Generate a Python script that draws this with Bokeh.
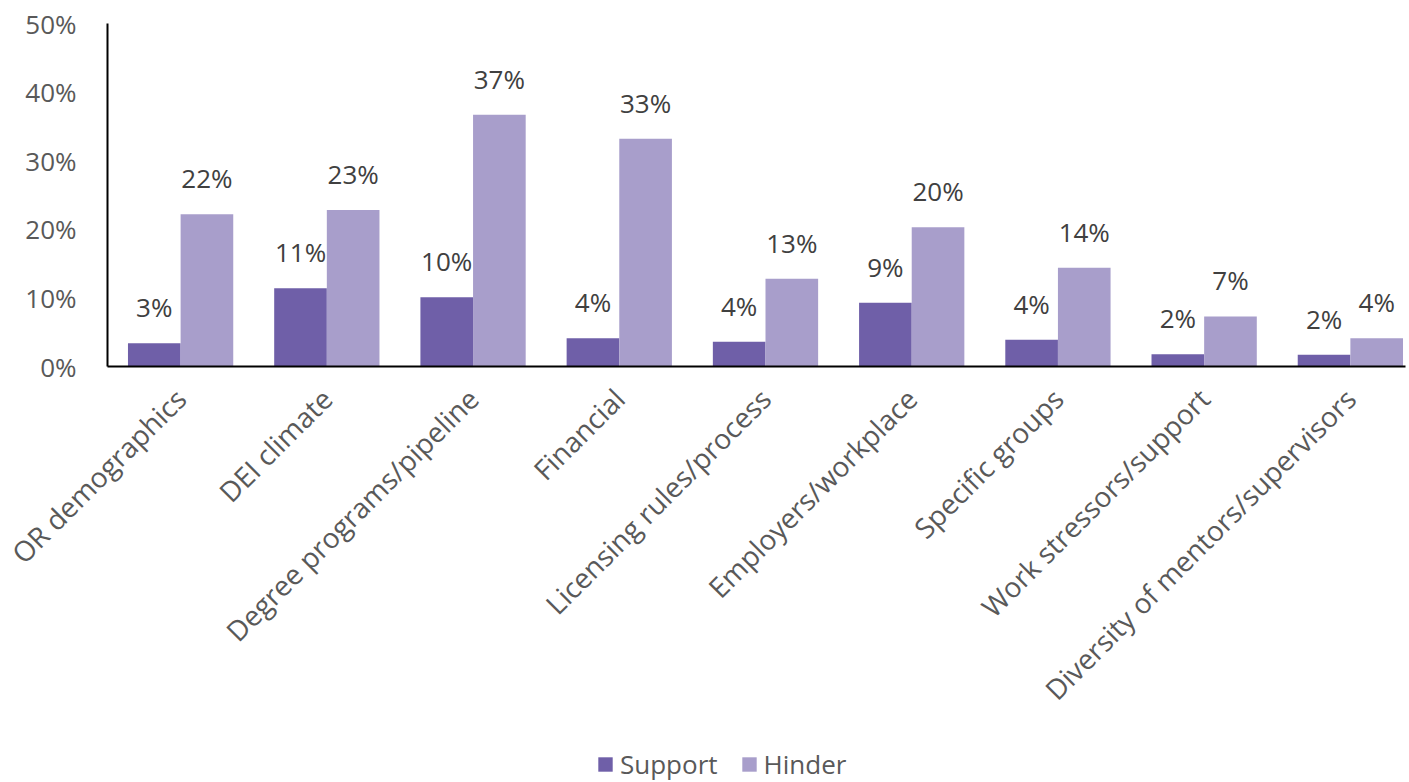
import math
from bokeh.plotting import figure
from bokeh.models import ColumnDataSource, Range1d, Legend, LegendItem
from bokeh.core.properties import value
from bokeh.embed import file_html
from bokeh.resources import INLINE

categories = ["OR demographics", "DEI climate", "Degree programs/pipeline", "Financial",
              "Licensing rules/process", "Employers/workplace", "Specific groups",
              "Work stressors/support", "Diversity of mentors/supervisors"]
support = [0.034, 0.114, 0.101, 0.041, 0.036, 0.093, 0.039, 0.018, 0.017]
hinder = [0.222, 0.228, 0.367, 0.332, 0.128, 0.203, 0.144, 0.073, 0.041]
y_ticks = [0, 0.1, 0.2, 0.3, 0.4, 0.5]
y_tick_labels = [f"{round(t * 100)}%" for t in y_ticks]

FONT = "Open Sans"
DARK = "#6F5FA8"
LIGHT = "#A89ECB"
W, H = 1409, 782
# pixel layout of the plotting area inside the canvas
LEFT, RIGHT, TOP, BOTTOM = 107, 1405, 23, 366
X_SPAN = 8.877          # data units between LEFT and RIGHT
Y_MAX = 0.5             # data value at TOP
kx = (RIGHT - LEFT) / X_SPAN
ky = (BOTTOM - TOP) / Y_MAX

centers = [i + 0.5 for i in range(len(categories))]
bw = 0.36
src_s = ColumnDataSource(dict(x=[c - bw / 2 for c in centers], top=support,
                              lab=[f"{round(v * 100)}%" for v in support]))
src_h = ColumnDataSource(dict(x=[c + bw / 2 for c in centers], top=hinder,
                              lab=[f"{round(v * 100)}%" for v in hinder]))
src_cat = ColumnDataSource(dict(x=centers, y=[0] * len(centers), name=categories))
src_yt = ColumnDataSource(dict(x=[0] * len(y_ticks), y=y_ticks, lab=y_tick_labels))

p = figure(width=W, height=H, output_backend="svg", toolbar_location=None,
           x_axis_type=None, y_axis_type=None,
           x_range=Range1d(-LEFT / kx, (W - LEFT) / kx),
           y_range=Range1d(-(H - BOTTOM) / ky, Y_MAX + TOP / ky),
           min_border_left=0, min_border_top=0, min_border_right=0, min_border_bottom=0)
p.outline_line_color = None

rs = p.vbar(x="x", top="top", width=bw, source=src_s, fill_color=DARK, line_color=None)
rh = p.vbar(x="x", top="top", width=bw, source=src_h, fill_color=LIGHT, line_color=None)

# axis lines
p.segment(x0=[0], y0=[0], x1=[0], y1=[Y_MAX], line_color="black", line_width=2)
p.segment(x0=[0], y0=[0], x1=[X_SPAN], y1=[0], line_color="black", line_width=2)

# data labels
for src in (src_s, src_h):
    p.text(x="x", y="top", text="lab", source=src, text_align="center", text_baseline="alphabetic",
           y_offset=-36, text_font=value(FONT), text_font_size="26px", text_color="#404040")

# y tick labels
p.text(x="x", y="y", text="lab", source=src_yt, text_align="right", text_baseline="middle",
       x_offset=-31, text_font=value(FONT), text_font_size="26px", text_color="#595959")

# category labels (rotated 45 degrees)
p.text(x="x", y="y", text="name", source=src_cat, angle=math.pi / 4,
       text_align="right", text_baseline="middle", y_offset=27,
       text_font=value(FONT), text_font_size="28px", text_color="#595959")

legend = Legend(items=[LegendItem(label="Support", renderers=[rs]),
                       LegendItem(label="Hinder", renderers=[rh])],
                orientation="horizontal", location=(596, 0),
                label_text_font=FONT, label_text_font_size="26px", label_text_color="#595959",
                glyph_width=18, glyph_height=18, spacing=22, label_standoff=6,
                padding=0, margin=0,
                border_line_color=None, background_fill_alpha=0)
p.add_layout(legend, "center")

open("out.html", "w").write(file_html(p, INLINE))
